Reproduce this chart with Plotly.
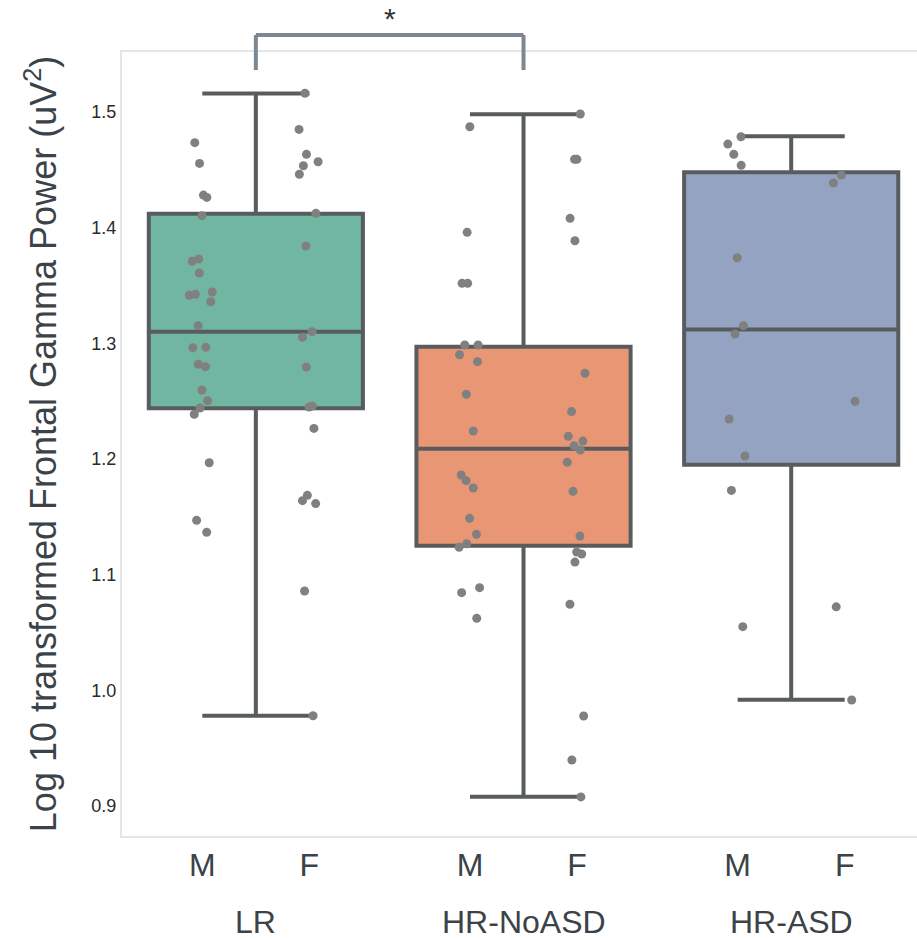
import plotly.graph_objects as go

groups = ["LR", "HR-NoASD", "HR-ASD"]
sexes = ["M", "F"]

# Strip-plot values per group and sex
lr_m = [1.4735, 1.4556, 1.4282, 1.4262, 1.4104, 1.3729, 1.3710, 1.3608, 1.3444, 1.3415,
        1.3424, 1.3360, 1.3153, 1.2966, 1.2963, 1.2819, 1.2798, 1.2597, 1.2504, 1.2441,
        1.2387, 1.1968, 1.1470, 1.1366]
lr_f = [1.5162, 1.4850, 1.4634, 1.4570, 1.4536, 1.4462, 1.4124, 1.3842, 1.3101, 1.3053,
        1.2796, 1.2450, 1.2458, 1.2265, 1.1686, 1.1640, 1.1615, 1.0859, 0.9781]
noasd_m = [1.4873, 1.3960, 1.3519, 1.3519, 1.2986, 1.2986, 1.2902, 1.2842, 1.2560, 1.2242,
           1.1862, 1.1813, 1.1750, 1.1487, 1.1349, 1.1268, 1.1237, 1.0888, 1.0845, 1.0623]
noasd_f = [1.4983, 1.4591, 1.4591, 1.4081, 1.3887, 1.2741, 1.2410, 1.2196, 1.2155, 1.2115,
           1.2078, 1.1972, 1.1721, 1.1334, 1.1179, 1.1196, 1.1109, 1.0745, 0.9778, 0.9398,
           0.9079]
asd_m = [1.4786, 1.4723, 1.4634, 1.4539, 1.3740, 1.3153, 1.3081, 1.2346, 1.2026, 1.1729,
         1.0551]
asd_f = [1.4455, 1.4386, 1.2499, 1.0722, 0.9917]

# Box statistics per group
box_low = [0.978, 0.908, 0.992]
box_q1 = [1.244, 1.125, 1.195]
box_med = [1.310, 1.209, 1.312]
box_q3 = [1.412, 1.297, 1.448]
box_high = [1.516, 1.498, 1.479]

# Significance annotation between LR and HR-NoASD
sig_pair = (0, 1)
sig_label = "*"

y_ticks = [0.9, 1.0, 1.1, 1.2, 1.3, 1.4, 1.5]
y_range = [0.8741, 1.5519]

points = {
    ("LR", "M"): lr_m, ("LR", "F"): lr_f,
    ("HR-NoASD", "M"): noasd_m, ("HR-NoASD", "F"): noasd_f,
    ("HR-ASD", "M"): asd_m, ("HR-ASD", "F"): asd_f,
}

box_fill = ["#71b6a1", "#e99675", "#95a3c3"]
line_col = "#585c5e"
font_fam = "Liberation Sans, Arial, sans-serif"
offset = {"M": -0.2, "F": 0.2}

fig = go.Figure()

for i, g in enumerate(groups):
    fig.add_trace(go.Box(
        x=[i], q1=[box_q1[i]], median=[box_med[i]], q3=[box_q3[i]],
        lowerfence=[box_low[i]], upperfence=[box_high[i]],
        width=0.8, whiskerwidth=0.5, fillcolor=box_fill[i],
        line=dict(color=line_col, width=4), boxpoints=False,
        showlegend=False, hoverinfo="skip",
    ))

for i, g in enumerate(groups):
    for s in sexes:
        vals = points[(g, s)]
        fig.add_trace(go.Box(
            x=[i + offset[s]] * len(vals), y=vals, width=0.1,
            boxpoints="all", jitter=1.0, pointpos=0,
            fillcolor="rgba(0,0,0,0)", line=dict(color="rgba(0,0,0,0)", width=0),
            marker=dict(color="#808080", size=9, opacity=1),
            showlegend=False, name=f"{g} {s}",
        ))

ymin, ymax = y_range
def to_paper(v):
    return (v - ymin) / (ymax - ymin)

a, b = sig_pair
y_top = to_paper(1.5666)
y_bot = to_paper(1.5363)
for x0, y0, x1, y1 in [(a, y_bot, a, y_top), (a, y_top, b, y_top), (b, y_top, b, y_bot)]:
    fig.add_shape(type="line", xref="x", yref="paper", x0=x0, x1=x1, y0=y0, y1=y1,
                  line=dict(color="#7d8791", width=4))
fig.add_annotation(x=(a + b) / 2, y=y_top, xref="x", yref="paper", text=sig_label,
                   showarrow=False, yanchor="bottom", yshift=-2,
                   font=dict(size=30, color="#333333", family=font_fam))

for i, g in enumerate(groups):
    fig.add_annotation(x=i, y=-0.11, xref="x", yref="paper", text=g, showarrow=False,
                       yanchor="middle", font=dict(size=32, color="#3b4349", family=font_fam))

tickvals = []
ticktext = []
for i in range(len(groups)):
    for s in sexes:
        tickvals.append(i + offset[s])
        ticktext.append(s)

fig.update_layout(
    width=917, height=940,
    margin=dict(l=122, r=0, t=52, b=104),
    paper_bgcolor="white", plot_bgcolor="white",
    boxmode="overlay",
    font=dict(family=font_fam),
    xaxis=dict(range=[-0.5, 2.47], tickvals=tickvals, ticktext=ticktext,
               tickfont=dict(size=32, color="#3b4349"), showgrid=False, zeroline=False,
               showline=True, mirror=True, linecolor="#e6e6e6", linewidth=2, ticks=""),
    yaxis=dict(range=y_range, tickvals=y_ticks, ticktext=[f"{v:.1f}" for v in y_ticks],
               tickfont=dict(size=18, color="#2a2a2a"), showgrid=False, zeroline=False,
               showline=True, linecolor="#e6e6e6", linewidth=2, ticks="",
               title=dict(text="Log 10 transformed Frontal Gamma Power (uV<sup>2</sup>)",
                          font=dict(size=36, color="#3b4349"), standoff=24)),
)

fig.write_html("out.html")
